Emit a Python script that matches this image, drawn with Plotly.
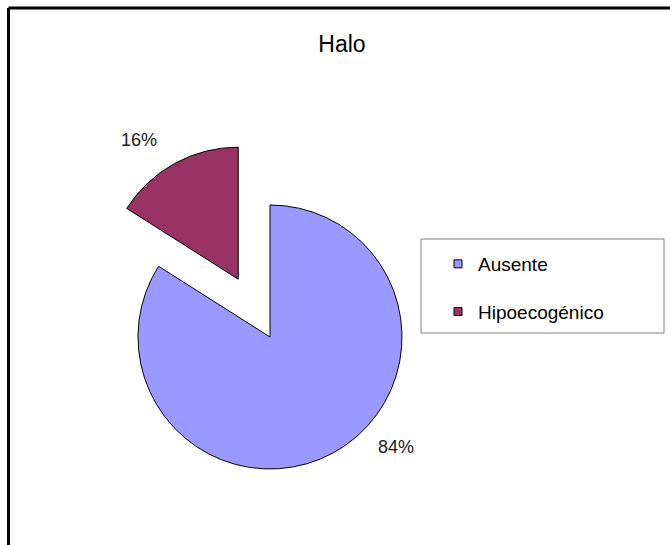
import plotly.graph_objects as go

# ---- data ----
categories = ["Ausente", "Hipoecogénico"]
values = [84, 16]
colors = ["#9999FF", "#993366"]
pulls = [0, 0.5]
title_text = "Halo"

W, H = 670, 545
FONT = "Arial, 'Liberation Sans', sans-serif"

def px_x(x):
    return x / W

def px_y(y):
    return 1 - y / H

fig = go.Figure()

# pie: center (270, 337) px, radius ~132 px, pull 0.5 -> box half-size 198
cx, cy, half = 270, 337, 198
fig.add_trace(go.Pie(
    labels=categories,
    values=values,
    marker=dict(colors=colors, line=dict(color="#000000", width=1)),
    pull=pulls,
    sort=False,
    direction="clockwise",
    rotation=0,
    textinfo="none",
    showlegend=False,
    domain=dict(x=[px_x(cx - half), px_x(cx + half)],
                y=[px_y(cy + half), px_y(cy - half)]),
))

# legend entries (square markers like the original legend)
for name, col in zip(categories, colors):
    fig.add_trace(go.Scatter(
        x=[None], y=[None], mode="markers", name=name, legendgroup=name,
        marker=dict(symbol="square", size=8, color=col,
                    line=dict(color="#000000", width=1)),
        hoverinfo="skip",
    ))

total = sum(values)
pct = [f"{round(v / total * 100)}%" for v in values]
label_pos = {"Ausente": (396, 447), "Hipoecogénico": (139, 140)}
annotations = []
for name, p in zip(categories, pct):
    lx, ly = label_pos[name]
    annotations.append(dict(
        text=p, x=px_x(lx), y=px_y(ly), xref="paper", yref="paper",
        xanchor="center", yanchor="middle", showarrow=False,
        font=dict(family=FONT, size=18, color="#1a1a1a"),
    ))

shapes = [
    # chart frame (top and left edges visible)
    dict(type="line", xref="paper", yref="paper",
         x0=px_x(8.5), x1=1.0, y0=px_y(8), y1=px_y(8),
         line=dict(color="#000000", width=3)),
    dict(type="line", xref="paper", yref="paper",
         x0=px_x(8.5), x1=px_x(8.5), y0=px_y(8), y1=0,
         line=dict(color="#000000", width=3)),
    # legend box
    dict(type="rect", xref="paper", yref="paper",
         x0=px_x(421), x1=px_x(664), y0=px_y(333), y1=px_y(239),
         line=dict(color="#808080", width=1), fillcolor="rgba(0,0,0,0)"),
]

fig.update_layout(
    width=W, height=H,
    margin=dict(l=0, r=0, t=0, b=0),
    paper_bgcolor="#FFFFFF",
    plot_bgcolor="#FFFFFF",
    title=dict(text=title_text, x=px_x(342), xanchor="center",
               y=px_y(44), yanchor="middle",
               font=dict(family=FONT, size=23, color="#000000")),
    showlegend=True,
    legend=dict(
        x=px_x(438), y=px_y(245), xanchor="left", yanchor="top",
        traceorder="grouped", tracegroupgap=20,
        font=dict(family=FONT, size=19, color="#000000"),
        bgcolor="rgba(0,0,0,0)", borderwidth=0,
    ),
    xaxis=dict(visible=False),
    yaxis=dict(visible=False),
    annotations=annotations,
    shapes=shapes,
)

fig.write_html("out.html")
